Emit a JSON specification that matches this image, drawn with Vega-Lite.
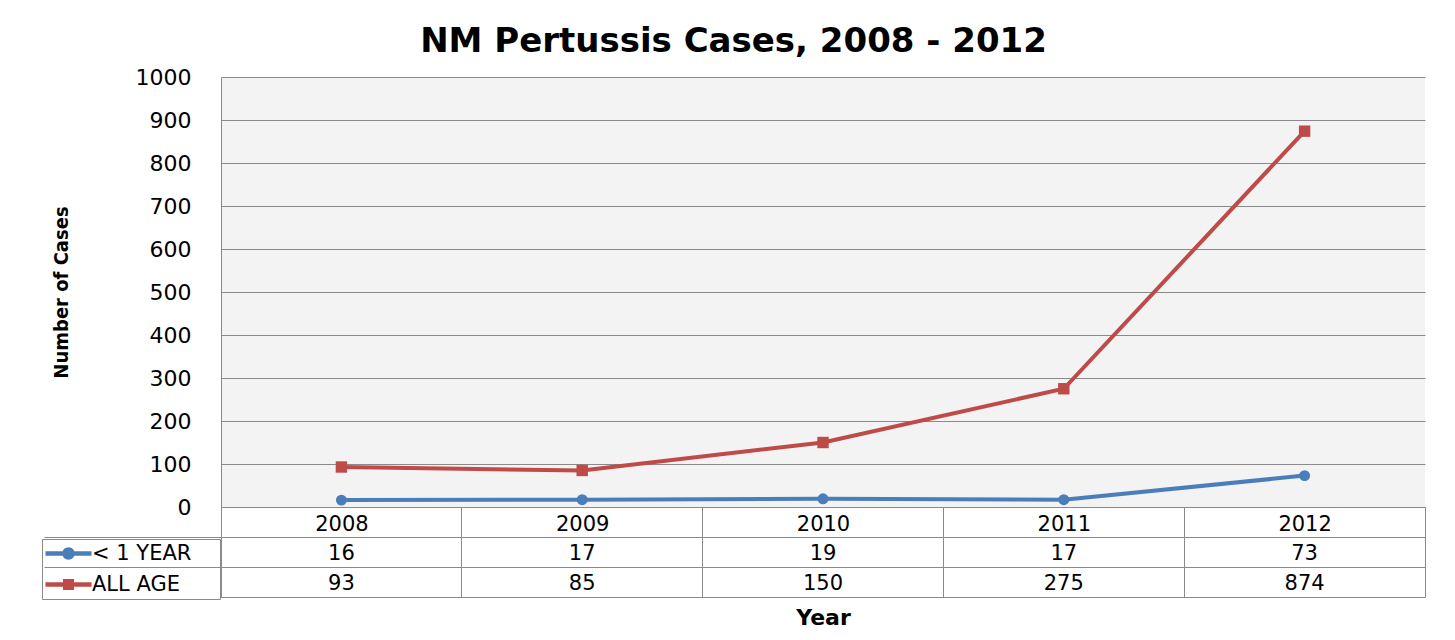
{
  "$schema": "https://vega.github.io/schema/vega-lite/v6.json",
  "background": "white",
  "padding": {"left": 41, "top": 25, "right": 31, "bottom": 8},
  "title": {
    "text": "NM Pertussis Cases, 2008 - 2012",
    "font": "DejaVu Sans",
    "fontSize": 34,
    "fontWeight": "bold",
    "color": "black",
    "anchor": "middle",
    "frame": "bounds",
    "offset": 7
  },
  "data": {
    "values": [
      {"year": "2008", "series": "< 1 YEAR", "cases": 16},
      {"year": "2009", "series": "< 1 YEAR", "cases": 17},
      {"year": "2010", "series": "< 1 YEAR", "cases": 19},
      {"year": "2011", "series": "< 1 YEAR", "cases": 17},
      {"year": "2012", "series": "< 1 YEAR", "cases": 73},
      {"year": "2008", "series": "ALL AGE", "cases": 93},
      {"year": "2009", "series": "ALL AGE", "cases": 85},
      {"year": "2010", "series": "ALL AGE", "cases": 150},
      {"year": "2011", "series": "ALL AGE", "cases": 275},
      {"year": "2012", "series": "ALL AGE", "cases": 874}
    ]
  },
  "bounds": "flush",
  "spacing": 0,
  "vconcat": [
    {
      "width": 1204,
      "height": 430,
      "view": {"fill": "#F2F3F2", "stroke": null},
      "encoding": {
        "x": {
          "field": "year",
          "type": "ordinal",
          "scale": {"type": "point", "padding": 0.5},
          "axis": {
            "title": null,
            "ticks": false,
            "domain": false,
            "grid": false,
            "labelAngle": 0,
            "labelFont": "DejaVu Sans",
            "labelFontSize": 21,
            "labelColor": "black",
            "labelBaseline": "middle",
            "labelPadding": 17
          }
        },
        "y": {
          "field": "cases",
          "type": "quantitative",
          "scale": {"domain": [0, 1000], "nice": false, "zero": true},
          "axis": {
            "values": [0, 100, 200, 300, 400, 500, 600, 700, 800, 900, 1000],
            "format": "d",
            "grid": true,
            "gridColor": "#8A8A8A",
            "gridWidth": 1,
            "domain": true,
            "domainColor": "#8A8A8A",
            "ticks": false,
            "labelPadding": 30,
            "labelFlush": false,
            "labelFont": "DejaVu Sans",
            "labelFontSize": 22,
            "labelColor": "black",
            "title": "Number of Cases",
            "titleFont": "DejaVu Sans Condensed",
            "titleFontSize": 20,
            "titleFontWeight": "bold",
            "titleColor": "black",
            "titlePadding": 64
          }
        }
      },
      "layer": [
        {
          "transform": [{"filter": "datum.series === '< 1 YEAR'"}],
          "mark": {"type": "line", "strokeWidth": 4, "color": "#4A7EBB"}
        },
        {
          "transform": [{"filter": "datum.series === 'ALL AGE'"}],
          "mark": {"type": "line", "strokeWidth": 4, "color": "#BE4B48"}
        },
        {
          "transform": [{"filter": "datum.series === '< 1 YEAR'"}],
          "mark": {"type": "point", "filled": true, "opacity": 1, "size": 120, "shape": "circle", "color": "#4A7EBB"}
        },
        {
          "transform": [{"filter": "datum.series === 'ALL AGE'"}],
          "mark": {"type": "point", "filled": true, "opacity": 1, "size": 130, "shape": "square", "color": "#BE4B48"}
        },
        {
          "transform": [{"filter": "datum.cases < 0"}],
          "mark": {"type": "point", "filled": true, "opacity": 1},
          "encoding": {
            "color": {
              "field": "series",
              "type": "nominal",
              "scale": {"domain": ["< 1 YEAR", "ALL AGE"], "range": ["#4A7EBB", "#BE4B48"]},
              "legend": {
                "orient": "none",
                "legendX": -179,
                "legendY": 462,
                "title": null,
                "direction": "vertical",
                "padding": 4,
                "rowPadding": 9,
                "strokeColor": "#8A8A8A",
                "labelFont": "DejaVu Sans",
                "labelFontSize": 21,
                "labelColor": "black",
                "labelLimit": 300,
                "symbolSize": 400,
                "symbolStrokeWidth": 0,
                "symbolOpacity": 1,
                "symbolOffset": 12,
                "labelOffset": 13,
                "labelExpr": "datum.label + '\u00a0\u200a\u2800'"
              }
            },
            "shape": {
              "field": "series",
              "type": "nominal",
              "scale": {
                "domain": ["< 1 YEAR", "ALL AGE"],
                "range": [
                  "M-2.3,-0.22H2.3V0.22H-2.3Z M-0.62,0A0.62,0.62 0 1,1 0.62,0A0.62,0.62 0 1,1 -0.62,0Z",
                  "M-2.3,-0.22H2.3V0.22H-2.3Z M-0.55,-0.55H0.55V0.55H-0.55Z"
                ]
              }
            }
          }
        }
      ]
    },
    {
      "width": 1204,
      "height": 90,
      "view": {"stroke": "#8A8A8A", "strokeWidth": 1, "fill": null},
      "mark": {"type": "text", "font": "DejaVu Sans", "fontSize": 21, "color": "black", "align": "center", "baseline": "middle", "dy": 2},
      "encoding": {
        "x": {
          "field": "year",
          "type": "ordinal",
          "scale": {"type": "band", "paddingInner": 0, "paddingOuter": 0},
          "axis": {
            "title": "Year",
            "labels": false,
            "ticks": false,
            "domain": false,
            "grid": true,
            "gridColor": "#8A8A8A",
            "bandPosition": 0,
            "titleFont": "DejaVu Sans",
            "titleFontSize": 22,
            "titleFontWeight": "bold",
            "titleColor": "black",
            "titlePadding": 10
          }
        },
        "y": {
          "field": "series",
          "type": "nominal",
          "scale": {"type": "band", "domain": ["hdr", "< 1 YEAR", "ALL AGE"], "paddingInner": 0, "paddingOuter": 0},
          "axis": {
            "title": null,
            "labels": false,
            "domain": false,
            "ticks": true,
            "tickSize": 177,
            "tickColor": "#8A8A8A",
            "values": ["hdr", "< 1 YEAR"],
            "bandPosition": 1,
            "grid": true,
            "gridColor": "#8A8A8A"
          }
        },
        "text": {"field": "cases", "type": "quantitative"}
      }
    }
  ]
}
